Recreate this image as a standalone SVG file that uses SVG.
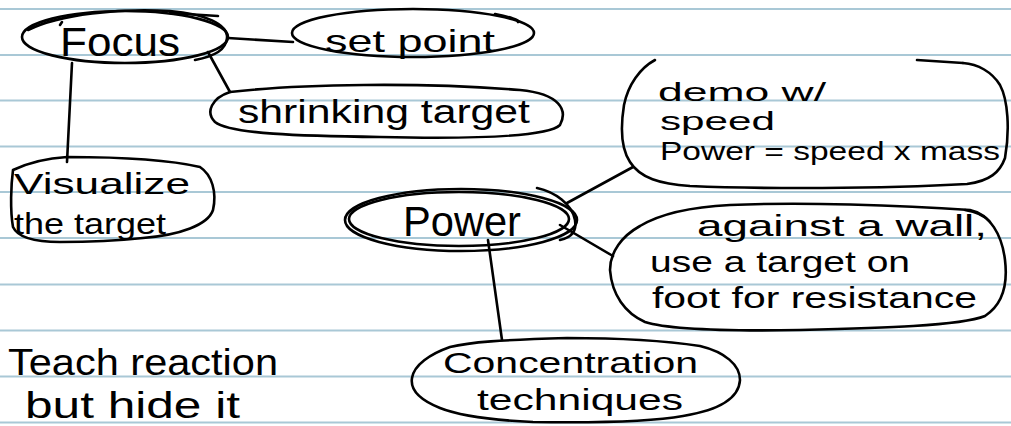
<svg xmlns="http://www.w3.org/2000/svg" width="1011" height="426" viewBox="0 0 1011 426">
<style>
.rule{stroke:#a9c8d6;stroke-width:2;fill:none}
.ink{stroke:#000;stroke-width:2.6;fill:none;stroke-linecap:round;stroke-linejoin:round}
text{font-family:"Liberation Sans","DejaVu Sans",sans-serif;fill:#000}
</style>
<rect width="1011" height="426" fill="#fff"/>
<g id="paper-lines">
<line class="rule" x1="0" y1="9" x2="1011" y2="9"/>
<line class="rule" x1="0" y1="55" x2="1011" y2="55"/>
<line class="rule" x1="0" y1="100.5" x2="1011" y2="100.5"/>
<line class="rule" x1="0" y1="146.5" x2="1011" y2="146.5"/>
<line class="rule" x1="0" y1="192" x2="1011" y2="192"/>
<line class="rule" x1="0" y1="238" x2="1011" y2="238"/>
<line class="rule" x1="0" y1="284.5" x2="1011" y2="284.5"/>
<line class="rule" x1="0" y1="330.5" x2="1011" y2="330.5"/>
<line class="rule" x1="0" y1="376.5" x2="1011" y2="376.5"/>
<line class="rule" x1="0" y1="422.5" x2="1011" y2="422.5"/>
</g>
<g id="connectors">
<path class="ink" d="M228 38 L293 42"/>
<path class="ink" d="M208 52 L230 92"/>
<path class="ink" d="M72 63 L67 162"/>
<path class="ink" d="M567 203 L633 167"/>
<path class="ink" d="M560 225 L613 256"/>
<path class="ink" d="M488 240 L502 340"/>
</g>
<g id="node-focus">
<ellipse class="ink" cx="125" cy="37" rx="103" ry="26"/>
<path class="ink" d="M28 30 C60 14 120 8 170 11 C205 14 228 24 227 38 C226 50 215 56 195 60"/>
<path class="ink" d="M60 25 L62 22 M170 13 L218 16"/>
<text x="60" y="56" font-size="40" textLength="120" lengthAdjust="spacingAndGlyphs">Focus</text>
</g>
<g id="node-setpoint">
<ellipse class="ink" cx="413" cy="33" rx="121" ry="24"/>
<path class="ink" d="M495 14 C510 17 520 20 518 22"/>
<text x="325" y="52" font-size="32" textLength="170" lengthAdjust="spacingAndGlyphs">set point</text>
</g>
<g id="node-shrinking">
<path class="ink" d="M230 92 C300 84 420 82 520 90 C560 94 568 110 560 125 C548 137 470 139 380 137 C300 136 230 134 215 122 C205 112 212 98 230 92 Z"/>
<text x="238" y="123" font-size="34" textLength="292" lengthAdjust="spacingAndGlyphs">shrinking target</text>
</g>
<g id="node-visualize">
<path class="ink" d="M13 170 C30 162 50 158 67 157 C120 157 170 160 200 167 C212 175 217 192 213 210 C208 225 180 235 143 238 C115 241 95 242 60 242 C35 242 18 238 13 227 C10 210 11 185 13 170"/>
<text x="14" y="194" font-size="30" textLength="176" lengthAdjust="spacingAndGlyphs">Visualize</text>
<text x="14" y="234" font-size="30" textLength="152" lengthAdjust="spacingAndGlyphs">the target</text>
</g>
<g id="node-power">
<ellipse class="ink" cx="461" cy="220" rx="116" ry="31"/>
<ellipse class="ink" cx="459" cy="219" rx="110" ry="27"/>
<path class="ink" d="M537 188 C555 192 572 204 575 220 C577 232 570 238 560 240"/>
<text x="403" y="236" font-size="42" textLength="118" lengthAdjust="spacingAndGlyphs">Power</text>
</g>
<g id="node-demo">
<path class="ink" d="M655 60 C640 68 628 85 624 105 C620 130 622 150 630 162 C640 178 660 184 690 186 C760 189 880 189 967 184 C990 181 1000 172 1005 158 C1010 130 1008 100 1000 85 C992 72 978 64 963 63"/>
<path class="ink" d="M917 60 L963 63"/>
<text x="658" y="101" font-size="26" textLength="168" lengthAdjust="spacingAndGlyphs">demo w/</text>
<text x="660" y="130" font-size="26" textLength="115" lengthAdjust="spacingAndGlyphs">speed</text>
<text x="660" y="160" font-size="26" textLength="340" lengthAdjust="spacingAndGlyphs">Power = speed x mass</text>
</g>
<g id="node-against">
<path class="ink" d="M640 226 C660 214 690 207 730 205 C800 202 900 205 970 210 C990 214 1002 235 1005 260 C1008 285 1002 305 985 316 C960 326 880 328 800 330 C740 331 670 330 645 322 C625 313 612 295 610 270 C610 252 622 236 640 226"/>
<path class="ink" d="M965 210 C978 212 985 216 990 222"/>
<text x="697" y="236" font-size="30" textLength="290" lengthAdjust="spacingAndGlyphs">against a wall,</text>
<text x="650" y="272" font-size="30" textLength="260" lengthAdjust="spacingAndGlyphs">use a target on</text>
<text x="652" y="308" font-size="30" textLength="325" lengthAdjust="spacingAndGlyphs">foot for resistance</text>
</g>
<g id="node-concentration">
<path class="ink" d="M450 347 C470 342 500 340 567 338 C620 338 667 341 700 346 C725 352 740 365 740 380 C739 398 720 410 683 416 C650 422 600 423 533 422 C490 420 460 416 440 408 C420 400 410 390 412 378 C414 365 430 354 450 347"/>
<text x="443" y="373" font-size="30" textLength="255" lengthAdjust="spacingAndGlyphs">Concentration</text>
<text x="477" y="410" font-size="30" textLength="206" lengthAdjust="spacingAndGlyphs">techniques</text>
</g>
<g id="note-teach">
<text x="8" y="375" font-size="36" textLength="270" lengthAdjust="spacingAndGlyphs">Teach reaction</text>
<text x="25" y="418" font-size="36" textLength="215" lengthAdjust="spacingAndGlyphs">but hide it</text>
</g>
</svg>
